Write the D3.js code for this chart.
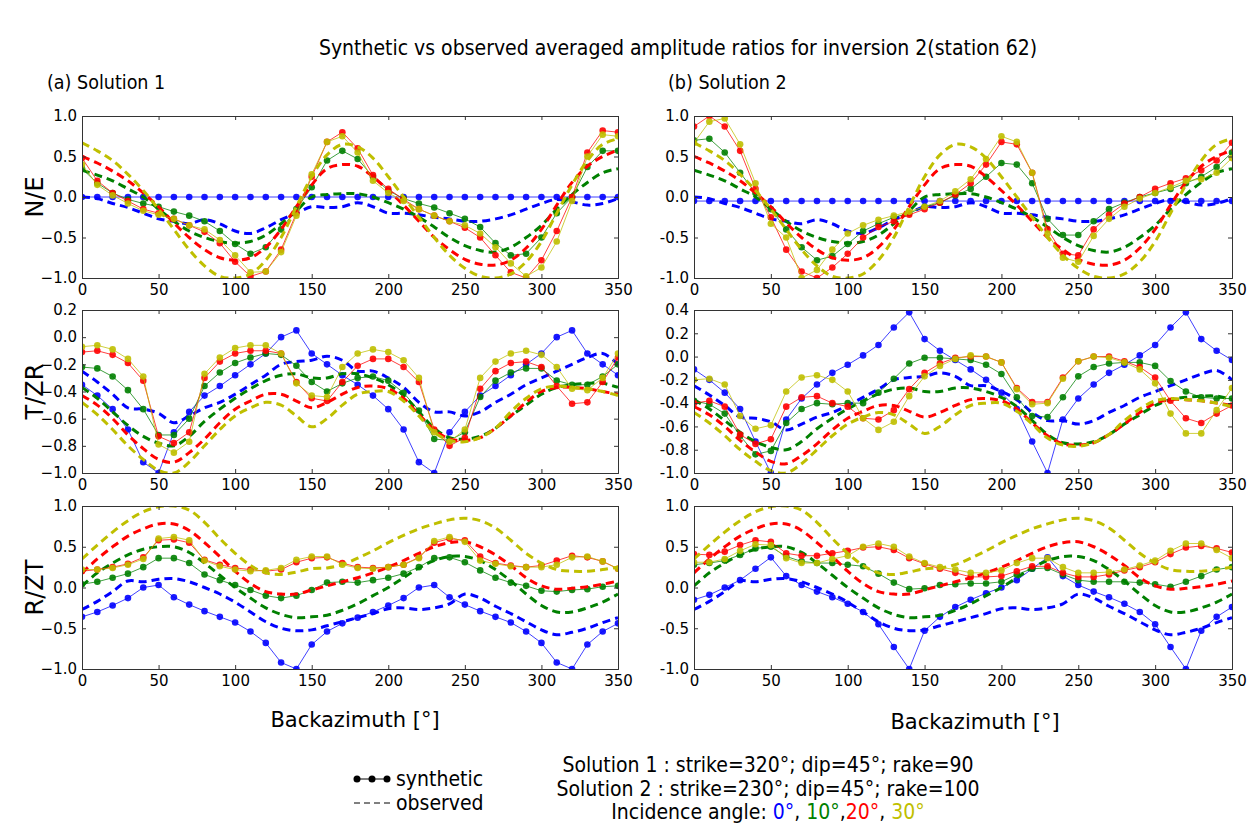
<!DOCTYPE html>
<html><head><meta charset="utf-8">
<script src="https://cdn.jsdelivr.net/npm/d3@7"></script>
<style>
body{margin:0;background:#fff;}
text{font-family:"DejaVu Sans",sans-serif;fill:#000;}
.cond{font-family:"DejaVu Sans Condensed","DejaVu Sans",sans-serif;font-stretch:condensed;}
</style></head><body>
<svg id="c" width="1255" height="825"></svg>
<script>
// ---------------- DATA ----------------
const backazimuth = [0,10,20,30,40,50,60,70,80,90,100,110,120,130,140,150,160,170,180,190,200,210,220,230,240,250,260,270,280,290,300,310,320,330,340,350];
const incidenceAngles = ["0°","10°","20°","30°"];
const seriesColors = ["#0000ff","#008000","#ff0000","#bfbf00"];
const componentNames = ["N/E","T/ZR","R/ZT"];
const xTicks = [0,50,100,150,200,250,300,350];
const yTicksNE = [-1.0,-0.5,0.0,0.5,1.0];
const yTicksTZR1 = [-1.0,-0.8,-0.6,-0.4,-0.2,0.0,0.2];
const yTicksTZR2 = [-1.0,-0.8,-0.6,-0.4,-0.2,0.0,0.2,0.4];
const yTicksRZT = [-1.0,-0.5,0.0,0.5,1.0];

// observed (dashed) — identical for both solutions
const obsNE_0  = [0.0,-0.02,-0.08,-0.13,-0.2,-0.27,-0.3,-0.33,-0.28,-0.33,-0.42,-0.45,-0.38,-0.28,-0.2,-0.12,-0.13,-0.12,-0.07,-0.12,-0.2,-0.2,-0.22,-0.25,-0.27,-0.3,-0.3,-0.27,-0.22,-0.15,-0.08,-0.03,-0.06,-0.1,-0.08,-0.02];
const obsNE_10 = [0.33,0.27,0.2,0.1,0.0,-0.15,-0.3,-0.42,-0.5,-0.55,-0.57,-0.55,-0.47,-0.33,-0.17,0.0,0.03,0.04,0.04,0.0,-0.07,-0.15,-0.25,-0.37,-0.5,-0.6,-0.66,-0.68,-0.62,-0.5,-0.35,-0.15,0.03,0.18,0.3,0.35];
const obsNE_20 = [0.5,0.42,0.32,0.2,0.05,-0.12,-0.32,-0.5,-0.65,-0.75,-0.78,-0.75,-0.62,-0.4,-0.12,0.15,0.35,0.4,0.38,0.25,0.08,-0.1,-0.3,-0.5,-0.65,-0.77,-0.83,-0.84,-0.78,-0.63,-0.4,-0.1,0.18,0.38,0.5,0.58];
const obsNE_30 = [0.67,0.57,0.45,0.28,0.08,-0.15,-0.4,-0.65,-0.85,-0.98,-1.0,-0.95,-0.78,-0.5,-0.12,0.25,0.52,0.65,0.62,0.48,0.25,0.0,-0.25,-0.5,-0.72,-0.88,-0.98,-1.0,-0.95,-0.8,-0.55,-0.2,0.15,0.45,0.65,0.72];

const obsTZR_0  = [-0.25,-0.33,-0.42,-0.52,-0.53,-0.56,-0.63,-0.58,-0.52,-0.48,-0.42,-0.35,-0.28,-0.2,-0.18,-0.17,-0.14,-0.17,-0.25,-0.25,-0.3,-0.37,-0.48,-0.55,-0.55,-0.58,-0.55,-0.48,-0.42,-0.35,-0.3,-0.25,-0.2,-0.15,-0.12,-0.2];
const obsTZR_10 = [-0.37,-0.45,-0.55,-0.65,-0.73,-0.78,-0.8,-0.73,-0.62,-0.53,-0.45,-0.38,-0.32,-0.28,-0.27,-0.3,-0.3,-0.27,-0.27,-0.3,-0.35,-0.43,-0.55,-0.67,-0.74,-0.75,-0.73,-0.67,-0.58,-0.5,-0.42,-0.37,-0.35,-0.34,-0.34,-0.37];
const obsTZR_20 = [-0.43,-0.5,-0.6,-0.72,-0.82,-0.9,-0.92,-0.85,-0.75,-0.63,-0.53,-0.47,-0.42,-0.42,-0.47,-0.52,-0.48,-0.42,-0.37,-0.36,-0.38,-0.45,-0.57,-0.68,-0.75,-0.76,-0.74,-0.67,-0.58,-0.48,-0.4,-0.37,-0.37,-0.38,-0.4,-0.42];
const obsTZR_30 = [-0.48,-0.57,-0.68,-0.8,-0.9,-0.98,-1.0,-0.92,-0.8,-0.68,-0.58,-0.52,-0.48,-0.5,-0.58,-0.66,-0.6,-0.5,-0.42,-0.4,-0.4,-0.47,-0.58,-0.7,-0.76,-0.77,-0.74,-0.67,-0.55,-0.45,-0.38,-0.36,-0.37,-0.38,-0.4,-0.43];

const obsRZT_0  = [-0.27,-0.17,-0.05,0.08,0.07,0.1,0.11,0.07,0.0,-0.08,-0.18,-0.3,-0.42,-0.5,-0.53,-0.52,-0.47,-0.42,-0.37,-0.32,-0.26,-0.25,-0.27,-0.25,-0.2,-0.08,-0.13,-0.23,-0.32,-0.42,-0.52,-0.58,-0.55,-0.5,-0.43,-0.37];
const obsRZT_10 = [0.02,0.18,0.3,0.4,0.47,0.5,0.5,0.43,0.3,0.15,0.0,-0.13,-0.25,-0.33,-0.37,-0.36,-0.34,-0.28,-0.2,-0.1,0.0,0.12,0.24,0.33,0.38,0.38,0.33,0.22,0.08,-0.08,-0.22,-0.3,-0.3,-0.25,-0.18,-0.08];
const obsRZT_20 = [0.18,0.35,0.5,0.63,0.72,0.78,0.78,0.7,0.55,0.38,0.2,0.05,-0.05,-0.08,-0.08,-0.03,0.02,0.07,0.12,0.18,0.25,0.33,0.42,0.5,0.55,0.56,0.5,0.4,0.27,0.12,0.02,-0.02,-0.01,0.01,0.04,0.08];
const obsRZT_30 = [0.35,0.52,0.68,0.82,0.93,0.99,1.0,0.95,0.8,0.6,0.42,0.27,0.18,0.16,0.19,0.23,0.24,0.28,0.36,0.45,0.55,0.64,0.72,0.78,0.83,0.85,0.82,0.73,0.58,0.42,0.3,0.22,0.2,0.2,0.22,0.25];

// synthetic, solution 1
const s1NE_0  = [0,0,0,0,0,0,0,0,0,0,0,0,0,0,0,0,0,0,0,0,0,0,0,0,0,0,0,0,0,0,0,0,0,0,0,0];
const s1NE_10 = [0.35,0.17,0.05,-0.03,-0.08,-0.12,-0.18,-0.23,-0.3,-0.42,-0.58,-0.7,-0.62,-0.4,-0.15,0.12,0.45,0.57,0.47,0.25,0.08,-0.02,-0.08,-0.13,-0.2,-0.27,-0.37,-0.57,-0.72,-0.7,-0.5,-0.2,0.0,0.37,0.57,0.57];
const s1NE_20 = [0.48,0.2,0.05,-0.05,-0.15,-0.2,-0.27,-0.35,-0.43,-0.57,-0.8,-0.98,-0.92,-0.65,-0.2,0.25,0.68,0.8,0.6,0.27,0.1,-0.03,-0.15,-0.23,-0.3,-0.38,-0.5,-0.72,-0.93,-1.0,-0.78,-0.42,0.0,0.55,0.82,0.8];
const s1NE_30 = [0.4,0.15,0.02,-0.08,-0.17,-0.22,-0.27,-0.35,-0.4,-0.53,-0.72,-0.93,-0.92,-0.68,-0.23,0.28,0.68,0.75,0.55,0.2,0.05,-0.05,-0.15,-0.23,-0.3,-0.35,-0.45,-0.62,-0.82,-0.98,-0.87,-0.55,-0.05,0.5,0.77,0.75];

const s1TZR_0  = [-0.35,-0.43,-0.53,-0.68,-0.92,-1.0,-0.7,-0.55,-0.43,-0.36,-0.28,-0.2,-0.12,0.0,0.05,-0.12,-0.2,-0.28,-0.35,-0.43,-0.53,-0.68,-0.92,-1.0,-0.7,-0.55,-0.43,-0.36,-0.28,-0.2,-0.12,0.0,0.05,-0.12,-0.2,-0.28];
const s1TZR_10 = [-0.22,-0.23,-0.29,-0.39,-0.53,-0.72,-0.72,-0.6,-0.36,-0.26,-0.19,-0.15,-0.12,-0.13,-0.21,-0.33,-0.4,-0.34,-0.3,-0.29,-0.32,-0.41,-0.54,-0.75,-0.76,-0.7,-0.44,-0.32,-0.26,-0.23,-0.23,-0.32,-0.35,-0.35,-0.29,-0.2];
const s1TZR_20 = [-0.11,-0.1,-0.13,-0.19,-0.32,-0.73,-0.78,-0.7,-0.3,-0.18,-0.12,-0.1,-0.1,-0.12,-0.33,-0.45,-0.47,-0.33,-0.21,-0.16,-0.16,-0.22,-0.33,-0.68,-0.8,-0.74,-0.38,-0.25,-0.19,-0.18,-0.22,-0.36,-0.49,-0.48,-0.33,-0.15];
const s1TZR_30 = [-0.07,-0.06,-0.09,-0.16,-0.29,-0.79,-0.85,-0.77,-0.27,-0.15,-0.08,-0.06,-0.06,-0.12,-0.34,-0.43,-0.44,-0.22,-0.12,-0.09,-0.11,-0.17,-0.3,-0.7,-0.77,-0.68,-0.3,-0.18,-0.12,-0.1,-0.13,-0.22,-0.38,-0.39,-0.3,-0.12];

const s1RZT_0  = [-0.36,-0.3,-0.22,-0.13,0.0,0.03,-0.12,-0.21,-0.29,-0.36,-0.43,-0.54,-0.68,-0.92,-1.0,-0.7,-0.54,-0.44,-0.37,-0.3,-0.22,-0.13,0.0,0.03,-0.12,-0.21,-0.29,-0.36,-0.43,-0.54,-0.68,-0.92,-1.0,-0.7,-0.54,-0.44];
const s1RZT_10 = [0.04,0.07,0.12,0.17,0.25,0.36,0.36,0.3,0.16,0.09,0.03,-0.03,-0.1,-0.13,-0.1,-0.03,0.06,0.07,0.06,0.09,0.12,0.17,0.25,0.36,0.37,0.31,0.21,0.12,0.06,0.02,-0.04,-0.05,-0.03,-0.02,0.01,0.02];
const s1RZT_20 = [0.2,0.22,0.25,0.29,0.37,0.58,0.59,0.55,0.34,0.28,0.24,0.22,0.2,0.22,0.31,0.36,0.37,0.3,0.25,0.24,0.25,0.28,0.37,0.55,0.6,0.58,0.38,0.3,0.27,0.25,0.27,0.33,0.39,0.37,0.32,0.23];
const s1RZT_30 = [0.22,0.22,0.24,0.28,0.35,0.6,0.62,0.58,0.33,0.26,0.22,0.2,0.21,0.24,0.34,0.38,0.38,0.28,0.24,0.23,0.25,0.28,0.36,0.57,0.62,0.56,0.33,0.29,0.26,0.25,0.25,0.28,0.37,0.38,0.32,0.23];

// synthetic, solution 2
const s2NE_0  = [-0.05,-0.05,-0.05,-0.05,-0.05,-0.05,-0.05,-0.05,-0.05,-0.05,-0.05,-0.05,-0.05,-0.05,-0.05,-0.05,-0.05,-0.05,-0.05,-0.05,-0.05,-0.05,-0.05,-0.05,-0.05,-0.05,-0.05,-0.05,-0.05,-0.05,-0.05,-0.05,-0.05,-0.05,-0.05,-0.05];
const s2NE_10 = [0.7,0.72,0.55,0.3,0.05,-0.15,-0.4,-0.62,-0.78,-0.73,-0.58,-0.42,-0.33,-0.25,-0.2,-0.12,-0.07,0.02,0.1,0.25,0.42,0.4,0.17,-0.27,-0.47,-0.47,-0.3,-0.15,-0.07,0.0,0.05,0.1,0.17,0.25,0.37,0.55];
const s2NE_20 = [0.87,1.0,0.87,0.57,0.1,-0.25,-0.65,-0.92,-1.0,-0.87,-0.7,-0.5,-0.37,-0.3,-0.22,-0.15,-0.07,0.03,0.17,0.4,0.68,0.65,0.3,-0.4,-0.7,-0.72,-0.4,-0.22,-0.08,0.0,0.1,0.17,0.23,0.33,0.45,0.67];
const s2NE_30 = [0.67,0.93,0.97,0.65,0.17,-0.33,-0.5,-1.0,-0.9,-0.65,-0.45,-0.35,-0.28,-0.23,-0.18,-0.12,-0.05,0.07,0.22,0.47,0.75,0.68,0.3,-0.45,-0.75,-0.8,-0.48,-0.27,-0.12,-0.02,0.05,0.12,0.2,0.22,0.3,0.48];

const s2TZR_0  = [-0.11,-0.2,-0.31,-0.45,-0.73,-1.0,-0.54,-0.36,-0.24,-0.14,-0.07,0.01,0.1,0.25,0.38,0.15,0.05,-0.03,-0.11,-0.2,-0.31,-0.45,-0.73,-1.0,-0.54,-0.36,-0.24,-0.14,-0.07,0.01,0.1,0.25,0.38,0.15,0.05,-0.03];
const s2TZR_10 = [-0.38,-0.41,-0.49,-0.68,-0.84,-0.81,-0.57,-0.45,-0.4,-0.41,-0.4,-0.4,-0.31,-0.19,-0.06,-0.01,-0.01,-0.02,-0.03,-0.07,-0.15,-0.35,-0.51,-0.52,-0.35,-0.17,-0.09,-0.06,-0.05,-0.05,-0.08,-0.21,-0.3,-0.35,-0.36,-0.36];
const s2TZR_20 = [-0.4,-0.38,-0.43,-0.67,-0.75,-0.71,-0.43,-0.35,-0.34,-0.4,-0.43,-0.53,-0.54,-0.46,-0.28,-0.14,-0.06,-0.01,0.0,0.0,-0.05,-0.27,-0.39,-0.39,-0.18,-0.04,0.0,0.0,-0.04,-0.09,-0.18,-0.38,-0.53,-0.57,-0.49,-0.42];
const s2TZR_30 = [-0.2,-0.19,-0.24,-0.51,-0.62,-0.59,-0.3,-0.18,-0.16,-0.2,-0.3,-0.53,-0.63,-0.56,-0.34,-0.17,-0.08,-0.02,0.01,0.0,-0.05,-0.28,-0.41,-0.4,-0.19,-0.04,0.0,-0.01,-0.05,-0.11,-0.23,-0.49,-0.66,-0.66,-0.46,-0.27];

const s2RZT_0  = [-0.15,-0.09,0.0,0.09,0.23,0.37,0.14,0.03,-0.05,-0.12,-0.2,-0.3,-0.45,-0.73,-1.0,-0.53,-0.36,-0.24,-0.15,-0.07,0.0,0.09,0.23,0.37,0.14,0.03,-0.05,-0.12,-0.2,-0.3,-0.45,-0.73,-1.0,-0.53,-0.36,-0.24];
const s2RZT_10 = [0.28,0.3,0.33,0.4,0.48,0.5,0.38,0.32,0.3,0.3,0.28,0.26,0.17,0.06,-0.02,-0.01,0.03,0.04,0.05,0.05,0.07,0.16,0.23,0.24,0.16,0.09,0.07,0.07,0.07,0.06,0.04,0.01,0.07,0.14,0.22,0.25];
const s2RZT_20 = [0.41,0.4,0.44,0.52,0.58,0.56,0.42,0.39,0.39,0.42,0.45,0.49,0.5,0.46,0.36,0.29,0.23,0.18,0.13,0.13,0.14,0.2,0.26,0.26,0.18,0.13,0.13,0.16,0.21,0.25,0.31,0.41,0.49,0.51,0.48,0.43];
const s2RZT_30 = [0.31,0.31,0.35,0.45,0.53,0.52,0.36,0.3,0.3,0.35,0.39,0.5,0.54,0.5,0.38,0.3,0.25,0.22,0.18,0.18,0.21,0.3,0.36,0.36,0.25,0.18,0.18,0.19,0.22,0.27,0.33,0.45,0.54,0.54,0.46,0.36];

// ---------------- DRAW ----------------
const svg = d3.select("#c");
const colX = [[82,618],[694,1232]];
const rowY = [[116,278],[310,473],[506,669]];

const panels = [
  {col:0,row:0,dom:[-1,1],ticks:yTicksNE,minus:"\u2212",syn:[s1NE_0,s1NE_10,s1NE_20,s1NE_30],obs:[obsNE_0,obsNE_10,obsNE_20,obsNE_30]},
  {col:0,row:1,dom:[-1,0.2],ticks:yTicksTZR1,minus:"\u2212",syn:[s1TZR_0,s1TZR_10,s1TZR_20,s1TZR_30],obs:[obsTZR_0,obsTZR_10,obsTZR_20,obsTZR_30]},
  {col:0,row:2,dom:[-1,1],ticks:yTicksRZT,minus:"\u2212",syn:[s1RZT_0,s1RZT_10,s1RZT_20,s1RZT_30],obs:[obsRZT_0,obsRZT_10,obsRZT_20,obsRZT_30]},
  {col:1,row:0,dom:[-1,1],ticks:yTicksNE,minus:"-",syn:[s2NE_0,s2NE_10,s2NE_20,s2NE_30],obs:[obsNE_0,obsNE_10,obsNE_20,obsNE_30]},
  {col:1,row:1,dom:[-1,0.4],ticks:yTicksTZR2,minus:"-",syn:[s2TZR_0,s2TZR_10,s2TZR_20,s2TZR_30],obs:[obsTZR_0,obsTZR_10,obsTZR_20,obsTZR_30]},
  {col:1,row:2,dom:[-1,1],ticks:yTicksRZT,minus:"-",syn:[s2RZT_0,s2RZT_10,s2RZT_20,s2RZT_30],obs:[obsRZT_0,obsRZT_10,obsRZT_20,obsRZT_30]}
];

panels.forEach((p,i)=>{
  const [x0,x1] = colX[p.col], [y0,y1] = rowY[p.row];
  const x = d3.scaleLinear().domain([0,350]).range([x0,x1]);
  const y = d3.scaleLinear().domain(p.dom).range([y1,y0]);
  const g = svg.append("g");
  const clipId = "clip"+i;
  svg.append("clipPath").attr("id",clipId).append("rect")
    .attr("x",x0).attr("y",y0).attr("width",x1-x0).attr("height",y1-y0);
  const plot = g.append("g").attr("clip-path",`url(#${clipId})`);
  const fmt = v => { const s = d3.format(".1f")(Math.abs(v)); return (v < -1e-9 ? p.minus : "") + s; };

  for (let k=0;k<4;k++){
    const syn = backazimuth.map((b,j)=>[b,p.syn[k][j]]);
    const obs = backazimuth.map((b,j)=>[b,p.obs[k][j]]);
    plot.append("path").datum(syn)
      .attr("d", d3.line().x(d=>x(d[0])).y(d=>y(d[1])))
      .attr("fill","none").attr("stroke",seriesColors[k]).attr("stroke-width",1).attr("stroke-opacity",0.75);
    plot.selectAll(null).data(syn).enter().append("circle")
      .attr("cx",d=>x(d[0])).attr("cy",d=>y(d[1])).attr("r",3.3)
      .attr("fill",seriesColors[k]).attr("fill-opacity",0.9);
    plot.append("path").datum(obs)
      .attr("d", d3.line().curve(d3.curveCatmullRom).x(d=>x(d[0])).y(d=>y(d[1])))
      .attr("fill","none").attr("stroke",seriesColors[k]).attr("stroke-width",3)
      .attr("stroke-dasharray","8,5");
  }

  const ax = g.append("g").attr("transform",`translate(0,${y1})`)
    .call(d3.axisBottom(x).tickValues(xTicks).tickSize(-4).tickPadding(6).tickFormat(d3.format("d")));
  const axT = g.append("g").attr("transform",`translate(0,${y0})`)
    .call(d3.axisTop(x).tickValues(xTicks).tickSize(-4).tickFormat(""));
  const ay = g.append("g").attr("transform",`translate(${x0},0)`)
    .call(d3.axisLeft(y).tickValues(p.ticks).tickSize(-4).tickPadding(5).tickFormat(fmt));
  const ayR = g.append("g").attr("transform",`translate(${x1},0)`)
    .call(d3.axisRight(y).tickValues(p.ticks).tickSize(-4).tickFormat(""));
  [ax,axT,ay,ayR].forEach(a=>{
    a.select(".domain").attr("stroke","#333").attr("stroke-width",1);
    a.selectAll(".tick line").attr("stroke","#333");
    a.selectAll("text").style("font-family","DejaVu Sans").style("font-size","15px").attr("fill","#111");
  });
  if (p.col===0){
    svg.append("text").attr("transform",`translate(${x0-47},${(y0+y1)/2}) rotate(-90)`)
      .attr("text-anchor","middle").attr("dy","0.35em")
      .style("font-size","24px").text(componentNames[p.row]);
  }
});

// titles
svg.append("text").attr("class","cond").attr("x",678).attr("y",55).attr("text-anchor","middle")
  .style("font-size","21px")
  .text("Synthetic vs observed averaged amplitude ratios for inversion 2(station 62)");
svg.append("text").attr("class","cond").attr("x",47).attr("y",89).style("font-size","19.5px").text("(a) Solution 1");
svg.append("text").attr("class","cond").attr("x",668).attr("y",89).style("font-size","19.5px").text("(b) Solution 2");

svg.append("text").attr("x",355).attr("y",727).attr("text-anchor","middle").style("font-size","21px").text("Backazimuth [°]");
svg.append("text").attr("x",975).attr("y",729).attr("text-anchor","middle").style("font-size","21px").text("Backazimuth [°]");

// legend
const lg = svg.append("g");
lg.append("line").attr("x1",354).attr("x2",390).attr("y1",779).attr("y2",779).attr("stroke","#000").attr("stroke-width",1);
[0,1,2].forEach(i=>lg.append("circle").attr("cx",357+i*15).attr("cy",779).attr("r",3.5).attr("fill","#000"));
lg.append("text").attr("class","cond").attr("x",396).attr("y",786).style("font-size","21px").text("synthetic");
lg.append("line").attr("x1",354).attr("x2",391).attr("y1",803).attr("y2",803).attr("stroke","#000").attr("stroke-width",1).attr("stroke-dasharray","6,4");
lg.append("text").attr("class","cond").attr("x",396).attr("y",810).style("font-size","21px").text("observed");

const infoX = 768;
svg.append("text").attr("class","cond").attr("x",infoX).attr("y",772).attr("text-anchor","middle").style("font-size","21px")
  .text("Solution 1 : strike=320°; dip=45°; rake=90");
svg.append("text").attr("class","cond").attr("x",infoX).attr("y",796).attr("text-anchor","middle").style("font-size","21px")
  .text("Solution 2 : strike=230°; dip=45°; rake=100");
const inc = svg.append("text").attr("class","cond").attr("x",infoX).attr("y",819).attr("text-anchor","middle").style("font-size","21px");
inc.append("tspan").text("Incidence angle: ");
inc.append("tspan").style("fill",seriesColors[0]).text(incidenceAngles[0]);
inc.append("tspan").text(", ");
inc.append("tspan").style("fill",seriesColors[1]).text(incidenceAngles[1]);
inc.append("tspan").text(",");
inc.append("tspan").style("fill",seriesColors[2]).text(incidenceAngles[2]);
inc.append("tspan").text(", ");
inc.append("tspan").style("fill",seriesColors[3]).text(incidenceAngles[3]);
</script></body></html>
